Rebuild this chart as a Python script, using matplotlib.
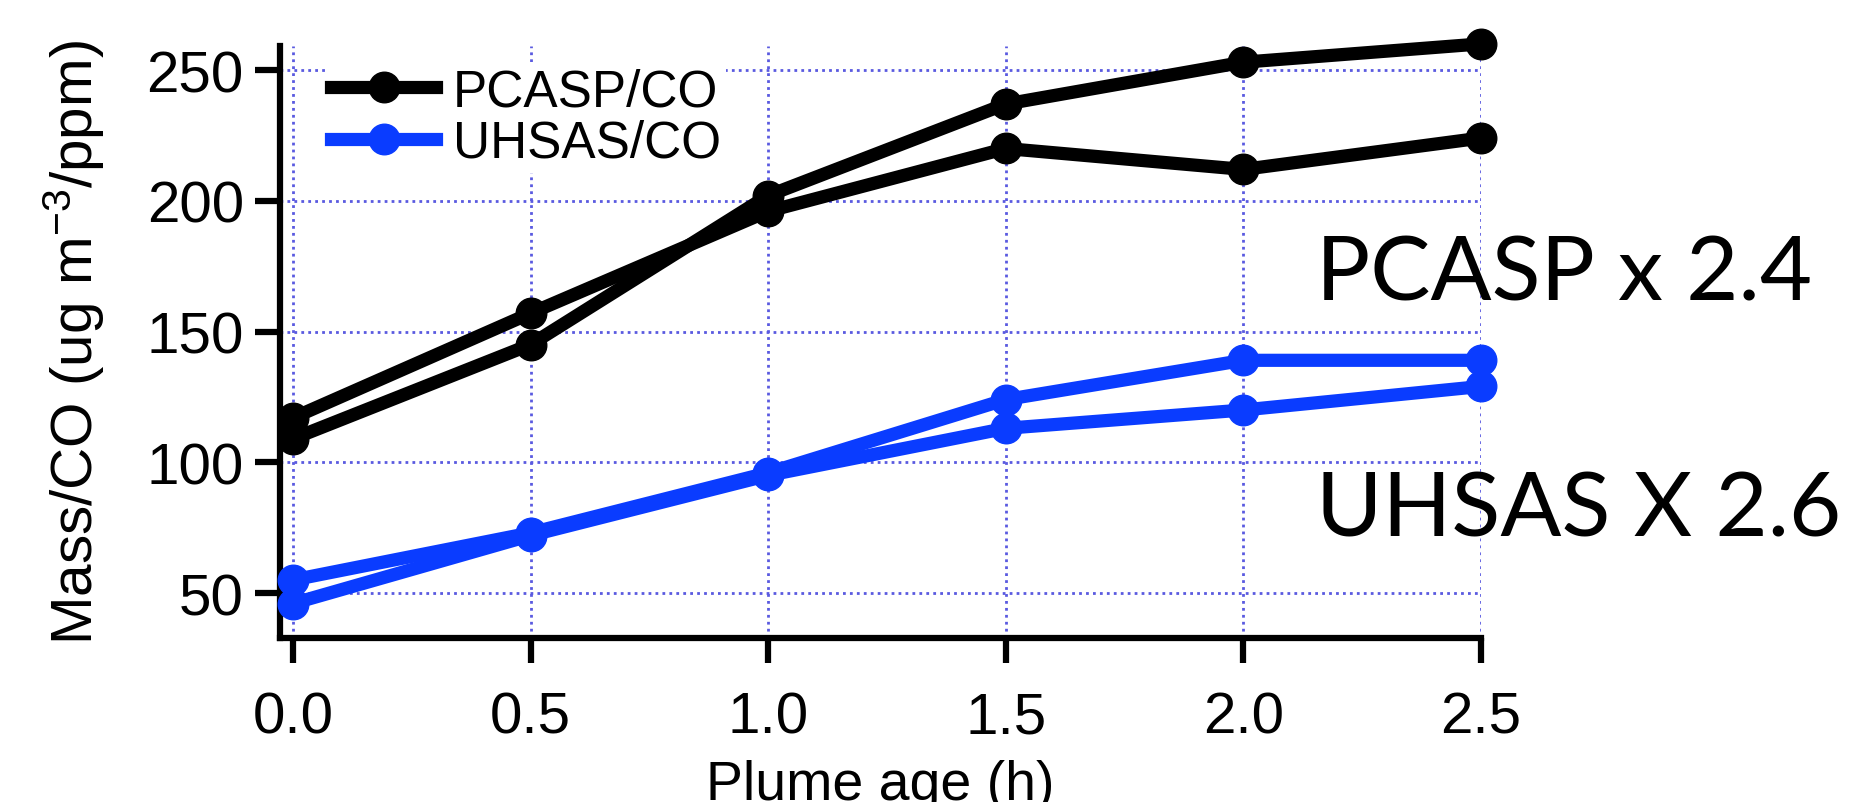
import matplotlib.pyplot as plt

plt.rcParams['font.family'] = ['Liberation Sans', 'DejaVu Sans'] # Arial-like font for axes text
plt.rcParams['mathtext.fontset'] = 'custom' # superscript in the same font
plt.rcParams['mathtext.rm'] = 'Liberation Sans'
plt.rcParams['mathtext.it'] = 'Liberation Sans:italic'
plt.rcParams['mathtext.bf'] = 'Liberation Sans:bold'

# plume age (h) and mass/CO ratios
age = [0.0, 0.5, 1.0, 1.5, 2.0, 2.5]
pcasp_a = [117, 157, 196, 220, 212, 224]
pcasp_b = [109, 145, 202, 237, 253, 260]
uhsas_a = [55, 73, 96, 124, 139, 139]
uhsas_b = [46, 72, 95, 113, 120, 129]
xticks = [0.0, 0.5, 1.0, 1.5, 2.0, 2.5]
yticks = [50, 100, 150, 200, 250]

blue = '#0a3cff'
gridc = '#5a5ae0'

fig = plt.figure(figsize=(18.55, 8.03), dpi=100) # 1855x803 px
ax = fig.add_axes([0.1509, 0.2042, 0.6475, 0.7373])

ax.plot(age, pcasp_a, color='black', lw=9.5, marker='o', ms=22, clip_on=False, zorder=3, label='PCASP/CO')
ax.plot(age, pcasp_b, color='black', lw=9.5, marker='o', ms=22, clip_on=False, zorder=3)
ax.plot(age, uhsas_a, color=blue, lw=9.5, marker='o', ms=22, clip_on=False, zorder=3, label='UHSAS/CO')
ax.plot(age, uhsas_b, color=blue, lw=9.5, marker='o', ms=22, clip_on=False, zorder=3)

ax.set_xlim(-0.0274, 2.5)
ax.set_ylim(32.8, 259.2)
ax.set_xticks(xticks)
ax.set_xticklabels(['%.1f' % t for t in xticks])
ax.set_yticks(yticks)
ax.grid(True, color=gridc, linestyle=(0, (1, 1.5)), lw=2) # dotted blue grid
ax.set_axisbelow(True)

for s in ['top', 'right']:
    ax.spines[s].set_visible(False)
for s in ['left', 'bottom']:
    ax.spines[s].set_linewidth(4.5)
ax.tick_params(axis='both', direction='out', length=18, width=4.5, labelsize=42)
ax.tick_params(axis='x', pad=20)
ax.tick_params(axis='y', pad=8)

ax.set_xlabel('Plume age (h)', fontsize=40, va='baseline')
ax.xaxis.set_label_coords(0.5, -0.272)
ax.set_ylabel('Mass/CO (ug m$^{-3}$/ppm)', fontsize=42)
ax.yaxis.set_label_coords(-0.144, 0.5)

leg = ax.legend(loc='upper left', bbox_to_anchor=(326 / 1855, 1 - 63 / 803), bbox_transform=fig.transFigure,
                fontsize=37, frameon=True, fancybox=False, framealpha=1, edgecolor='none', facecolor='white',
                borderpad=0.1, borderaxespad=0, handlelength=2.04, handletextpad=0.33, labelspacing=0.05)

# scaling factors written beside the plot
fig.text(0.7095, 0.6264, 'PCASP x 2.4', family='Lato', fontsize=65, va='baseline', ha='left')
fig.text(0.7095, 0.3313, 'UHSAS X 2.6', family='Lato', fontsize=65, va='baseline', ha='left')

fig.savefig('out.png', dpi=100)
plt.close()
